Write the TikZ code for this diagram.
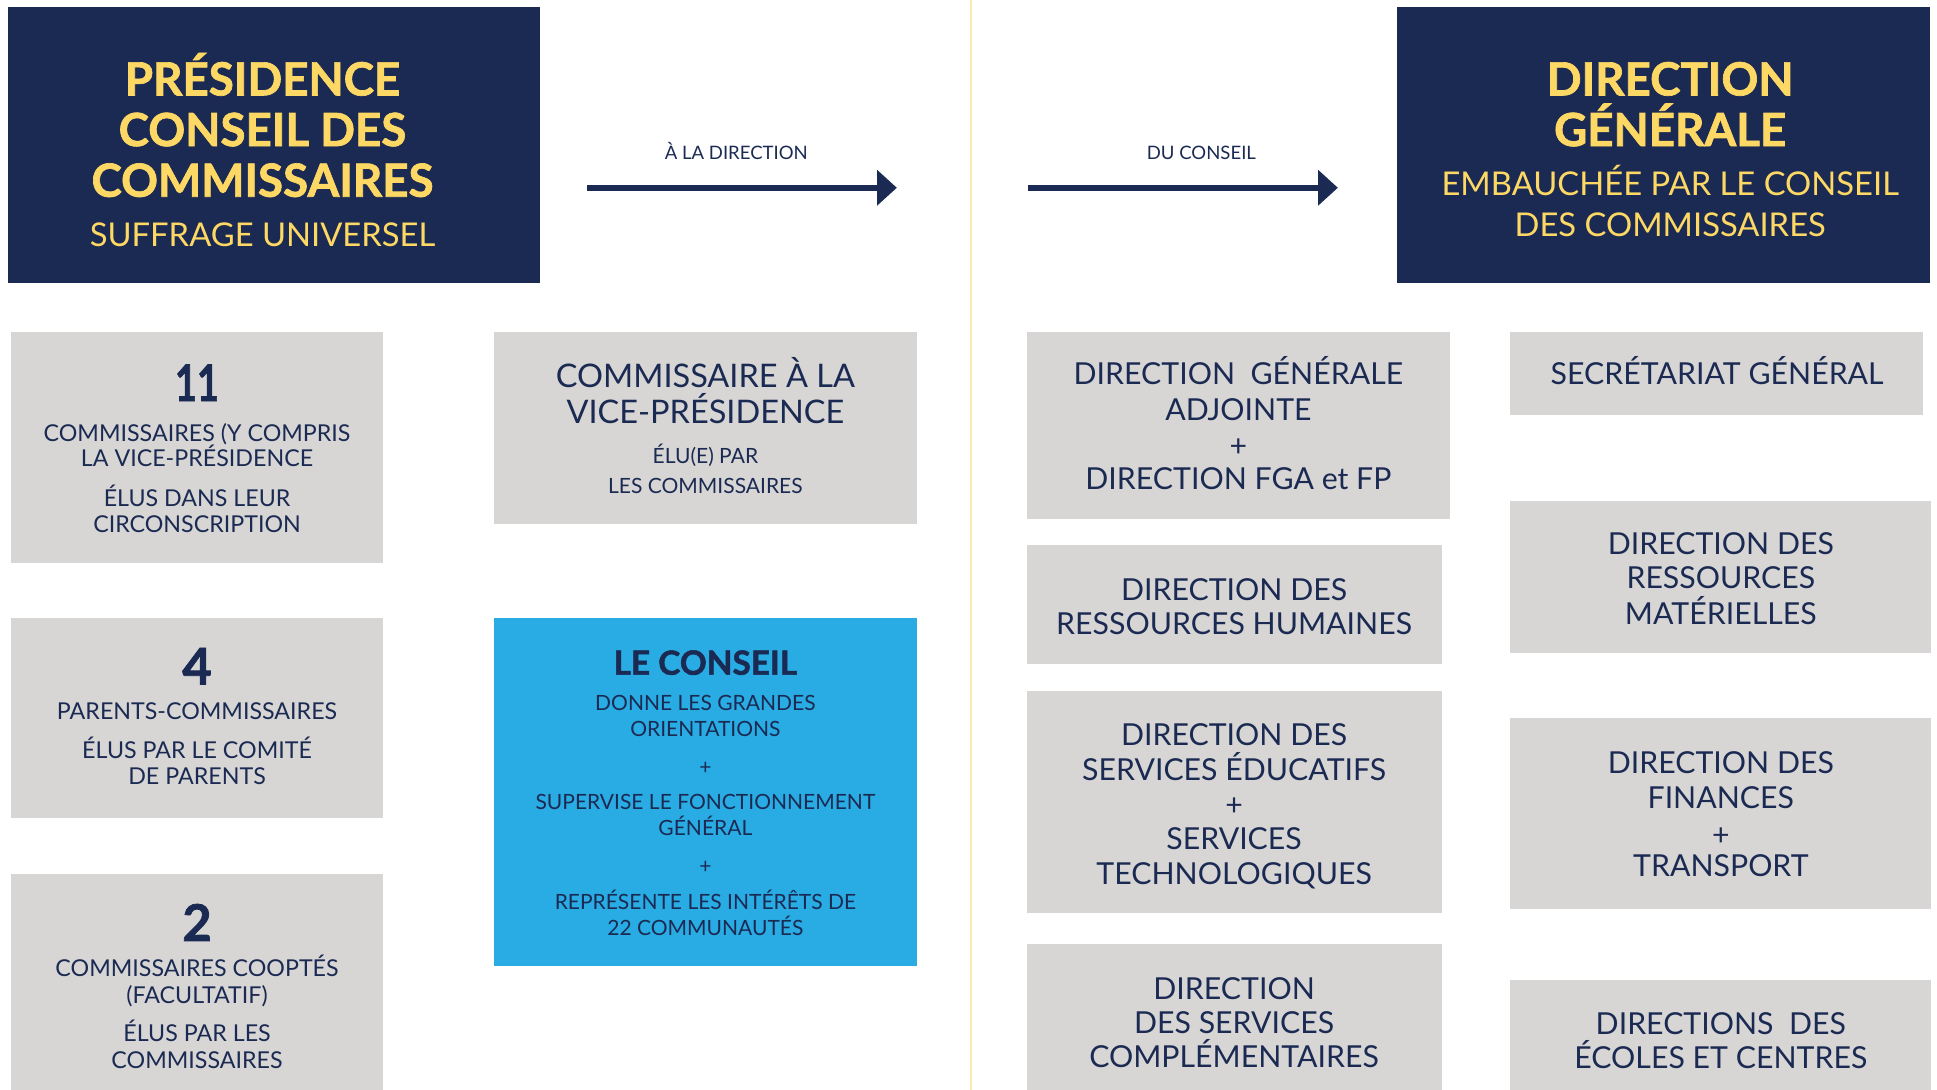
\documentclass[tikz,border=0pt]{standalone}
\usepackage{fontspec}
\usepackage{graphicx}
\setmainfont{Lato}[BoldFeatures={FakeBold=1.5}]
\usetikzlibrary{arrows.meta}
\definecolor{navy}{HTML}{1B2A52}
\definecolor{gold}{HTML}{FDD864}
\definecolor{greybox}{HTML}{D7D6D5}
\definecolor{bluebox}{HTML}{29ABE3}
\definecolor{paleline}{HTML}{FBEBAE}
\newcommand\bx[6]{\node[#6, inner sep=0pt, outer sep=0pt, minimum width={#4-#2}, minimum height={#5-#3}, anchor=north west] (#1) at (#2,#3) {};}
\newcommand\tx[6]{\node[tline,#5,yshift={-0.358*#4}] (#1) at (#2,#3) {\fontsize{#4}{#4}\selectfont #6};}
\begin{document}
\begin{tikzpicture}[x=1pt,y=-1pt,
  tline/.style={anchor=base, inner sep=0pt, outer sep=0pt, text=navy},
  yel/.style={text=gold},
  bld/.style={font=\bfseries},
  darkbox/.style={fill=navy, draw=none},
  gbox/.style={fill=greybox, draw=none},
  bbox/.style={fill=bluebox, draw=none},
  arr/.style={draw=navy, line width=5pt, -{Triangle[length=16pt,width=28pt]}},
  vline/.style={draw=paleline, line width=1.5pt}]
\useasboundingbox (0,0) rectangle (1568,882);
% vertical separator
\coordinate (vt) at (786,0); \coordinate (vb) at (786,882);
\draw[vline] (vt) -- (vb);
% top dark boxes
\bx{pres}{6.5}{5.5}{437}{229}{darkbox}
\tx{p1}{212.5}{64}{37}{yel,bld}{PRÉSIDENCE}
\tx{p2}{212.5}{105}{37}{yel,bld}{CONSEIL DES}
\tx{p3}{212.5}{146}{37}{yel,bld}{COMMISSAIRES}
\tx{p4}{212.5}{190}{26.5}{yel}{SUFFRAGE UNIVERSEL}
\bx{dg}{1131}{5.5}{1562}{229}{darkbox}
\tx{d1}{1352}{64}{37}{yel,bld}{DIRECTION}
\tx{d2}{1352}{105}{37}{yel,bld}{GÉNÉRALE}
\tx{d3}{1352}{149}{26.5}{yel}{EMBAUCHÉE PAR LE CONSEIL}
\tx{d4}{1352}{182}{26.5}{yel}{DES COMMISSAIRES}
% arrows
\coordinate (a1s) at (475,152); \coordinate (a1e) at (726,152);
\draw[arr] (a1s) -- (a1e);
\tx{l1}{596}{124}{15}{}{À LA DIRECTION}
\coordinate (a2s) at (832,152); \coordinate (a2e) at (1083,152);
\draw[arr] (a2s) -- (a2e);
\tx{l2}{972.5}{124}{15}{}{DU CONSEIL}
% column 1
\bx{bA}{9}{269}{310}{456}{gbox}
\tx{a0}{159.5}{310}{41}{bld}{\scalebox{0.75}[1]{11}}
\tx{a1}{159.5}{350.5}{18.8}{}{COMMISSAIRES (Y COMPRIS}
\tx{a2}{159.5}{371}{18.8}{}{LA VICE-PRÉSIDENCE}
\tx{a3}{159.5}{403}{18.8}{}{ÉLUS DANS LEUR}
\tx{a4}{159.5}{424}{18.8}{}{CIRCONSCRIPTION}
\bx{bB}{9}{500}{310}{662.5}{gbox}
\tx{b0}{159.5}{539.5}{41}{bld}{4}
\tx{b1}{159.5}{575.3}{18.8}{}{PARENTS-COMMISSAIRES}
\tx{b2}{159.5}{607}{18.8}{}{ÉLUS PAR LE COMITÉ}
\tx{b3}{159.5}{628.7}{18.8}{}{DE PARENTS}
\bx{bC}{9}{707.5}{310}{882}{gbox}
\tx{c0}{159.5}{747}{41}{bld}{2}
\tx{c1}{159.5}{784}{18.8}{}{COMMISSAIRES COOPTÉS}
\tx{c2}{159.5}{805.5}{18.8}{}{(FACULTATIF)}
\tx{c3}{159.5}{836.5}{18.8}{}{ÉLUS PAR LES}
\tx{c4}{159.5}{858}{18.8}{}{COMMISSAIRES}
% column 2
\bx{bD}{400}{269}{742}{424.5}{gbox}
\tx{e1}{571}{304.5}{26.3}{}{COMMISSAIRE À LA}
\tx{e2}{571}{333.5}{26.3}{}{VICE-PRÉSIDENCE}
\tx{e3}{571}{369.5}{17}{}{ÉLU(E) PAR}
\tx{e4}{571}{393}{17}{}{LES COMMISSAIRES}
\bx{bE}{400}{500}{742}{781.8}{bbox}
\tx{f0}{571}{536.5}{27}{bld}{LE CONSEIL}
\tx{f1}{571}{568.8}{17}{}{DONNE LES GRANDES}
\tx{f2}{571}{590}{17}{}{ORIENTATIONS}
\tx{f3}{571}{620.6}{17}{}{+}
\tx{f4}{571}{649}{17}{}{SUPERVISE LE FONCTIONNEMENT}
\tx{f5}{571}{670}{17}{}{GÉNÉRAL}
\tx{f6}{571}{700.8}{17}{}{+}
\tx{f7}{571}{730}{17}{}{REPRÉSENTE LES INTÉRÊTS DE}
\tx{f8}{571}{751}{17}{}{22 COMMUNAUTÉS}
% column 3
\bx{bF}{831.5}{269}{1173.5}{420}{gbox}
\tx{g1}{1002.5}{302.8}{24.5}{}{DIRECTION\ \ GÉNÉRALE}
\tx{g2}{1002.5}{331.4}{24.5}{}{ADJOINTE}
\tx{g3}{1002.5}{361}{24.5}{}{+}
\tx{g4}{1002.5}{387.2}{24.5}{}{DIRECTION FGA et FP}
\bx{bG}{831.5}{441}{1167}{537.3}{gbox}
\tx{h1}{999}{477}{24.5}{}{DIRECTION DES}
\tx{h2}{999}{504.6}{24.5}{}{RESSOURCES HUMAINES}
\bx{bH}{831.5}{559.4}{1167}{738.9}{gbox}
\tx{i1}{999}{594.5}{24.5}{}{DIRECTION DES}
\tx{i2}{999}{623.4}{24.5}{}{SERVICES ÉDUCATIFS}
\tx{i3}{999}{651.7}{24.5}{}{+}
\tx{i4}{999}{678.7}{24.5}{}{SERVICES}
\tx{i5}{999}{707}{24.5}{}{TECHNOLOGIQUES}
\bx{bI}{831.5}{764.2}{1167}{882}{gbox}
\tx{j1}{999}{800}{24.5}{}{DIRECTION}
\tx{j2}{999}{828}{24.5}{}{DES SERVICES}
\tx{j3}{999}{855.4}{24.5}{}{COMPLÉMENTAIRES}
% column 4
\bx{bJ}{1222}{269}{1557}{335.7}{gbox}
\tx{k1}{1390}{302.8}{24.5}{}{SECRÉTARIAT GÉNÉRAL}
\bx{bK}{1222}{405.6}{1563}{528.4}{gbox}
\tx{m1}{1393}{439.9}{24.5}{}{DIRECTION DES}
\tx{m2}{1393}{468}{24.5}{}{RESSOURCES}
\tx{m3}{1393}{496.5}{24.5}{}{MATÉRIELLES}
\bx{bL}{1222}{581.5}{1563}{735.6}{gbox}
\tx{n1}{1393}{617.4}{24.5}{}{DIRECTION DES}
\tx{n2}{1393}{645.8}{24.5}{}{FINANCES}
\tx{n3}{1393}{675.4}{24.5}{}{+}
\tx{n4}{1393}{701}{24.5}{}{TRANSPORT}
\bx{bM}{1222}{793.4}{1563}{882}{gbox}
\tx{o1}{1393}{828.4}{24.5}{}{DIRECTIONS\ \ DES}
\tx{o2}{1393}{856}{24.5}{}{ÉCOLES ET CENTRES}
\end{tikzpicture}
\end{document}
